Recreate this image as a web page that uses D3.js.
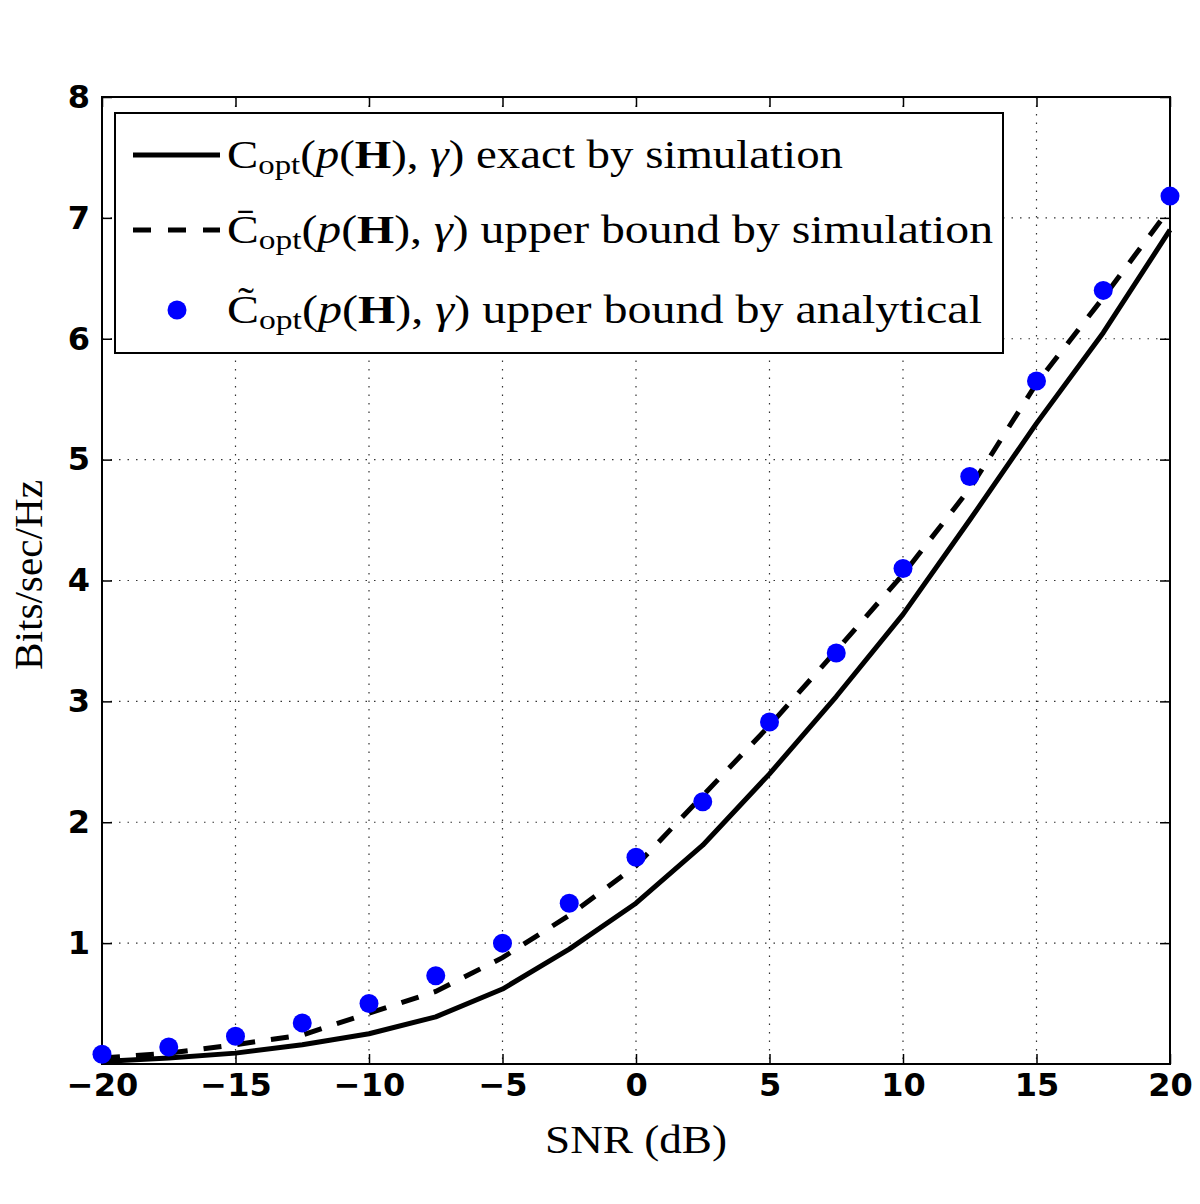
<!DOCTYPE html>
<html><head><meta charset="utf-8">
<script src="https://cdn.jsdelivr.net/npm/d3@7"></script>
<style>body{margin:0;background:#fff}</style>
</head><body>
<svg id="c" width="1200" height="1204"></svg>
<script>
const snr = [-20,-17.5,-15,-12.5,-10,-7.5,-5,-2.5,0,2.5,5,7.5,10,12.5,15,17.5,20];
const exactSim = [0.02,0.05,0.09,0.16,0.25,0.39,0.62,0.95,1.33,1.81,2.40,3.04,3.72,4.50,5.30,6.05,6.90];
const upperSim = [0.05,0.09,0.16,0.24,0.42,0.60,0.88,1.23,1.64,2.22,2.80,3.42,4.05,4.76,5.63,6.34,7.08];
const upperAna = [0.08,0.14,0.23,0.34,0.50,0.73,1.00,1.33,1.71,2.17,2.83,3.40,4.10,4.86,5.65,6.40,7.18];
const xTicks = [-20,-15,-10,-5,0,5,10,15,20];
const yTicks = [1,2,3,4,5,6,7,8];

const svg = d3.select('#c');
const L=102,R=1170,T=97,B=1064;
const x = d3.scaleLinear().domain([-20,20]).range([L,R]);
const y = d3.scaleLinear().domain([0,8]).range([B,T]);

// grid
const g = svg.append('g');
g.selectAll('.gx').data(xTicks.slice(1,-1)).enter().append('line')
 .attr('x1',d=>x(d)).attr('x2',d=>x(d)).attr('y1',T).attr('y2',B)
 .attr('stroke','#333').attr('stroke-width',1.2).attr('stroke-dasharray','1.5,7');
g.selectAll('.gy').data(yTicks.slice(0,-1)).enter().append('line')
 .attr('y1',d=>y(d)).attr('y2',d=>y(d)).attr('x1',L).attr('x2',R)
 .attr('stroke','#333').attr('stroke-width',1.2).attr('stroke-dasharray','1.5,7');

// axes
const ax = d3.axisBottom(x).tickValues(xTicks).tickSize(-10).tickPadding(9).tickFormat(d=>d<0?'\u2212'+(-d):d);
const ay = d3.axisLeft(y).tickValues(yTicks).tickSize(-10).tickPadding(12);
const axT = d3.axisTop(x).tickValues(xTicks).tickSize(-10).tickFormat('');
const ayR = d3.axisRight(y).tickValues(yTicks).tickSize(-10).tickFormat('');
function style(sel){
  sel.select('.domain').remove();
  sel.selectAll('line').attr('stroke','#000').attr('stroke-width',1.5);
  sel.selectAll('text').attr('font-family','DejaVu Sans').attr('font-weight','bold').attr('font-size',32).attr('fill','#000');
}
svg.append('g').attr('transform',`translate(0,${B})`).call(ax).call(style);
svg.append('g').attr('transform',`translate(${L},0)`).call(ay).call(style);
svg.append('g').attr('transform',`translate(0,${T})`).call(axT).call(style);
svg.append('g').attr('transform',`translate(${R},0)`).call(ayR).call(style);
svg.append('rect').attr('x',L).attr('y',T).attr('width',R-L).attr('height',B-T)
 .attr('fill','none').attr('stroke','#000').attr('stroke-width',2);

// series
const line = d3.line().x((d,i)=>x(snr[i])).y(d=>y(d));
svg.append('path').datum(exactSim).attr('d',line).attr('fill','none').attr('stroke','#000').attr('stroke-width',5).attr('stroke-linejoin','round');
svg.append('path').datum(upperSim).attr('d',line).attr('fill','none').attr('stroke','#000').attr('stroke-width',5).attr('stroke-dasharray','18,16');
svg.selectAll('.dot').data(upperAna).enter().append('circle')
 .attr('cx',(d,i)=>x(snr[i])).attr('cy',d=>y(d)).attr('r',9.5).attr('fill','#0000ff');

// axis labels
svg.append('text').attr('x',545).attr('y',1153)
 .attr('font-family','Liberation Serif').attr('font-size',40)
 .attr('textLength',182).attr('lengthAdjust','spacingAndGlyphs').text('SNR (dB)');
svg.append('text').attr('transform','translate(42,670) rotate(-90)')
 .attr('font-family','Liberation Serif').attr('font-size',40)
 .attr('textLength',190).attr('lengthAdjust','spacingAndGlyphs').text('Bits/sec/Hz');

// legend
const lg = svg.append('g');
lg.append('rect').attr('x',115).attr('y',113).attr('width',888).attr('height',240)
 .attr('fill','#fff').attr('stroke','#000').attr('stroke-width',2);
const legendItems = [
 {acc:'', rest:' exact by simulation', type:'solid', cy:155, w:616},
 {acc:'\u0304', rest:' upper bound by simulation', type:'dash', cy:230, w:766},
 {acc:'\u0303', rest:' upper bound by analytical', type:'dot', cy:310, w:755}
];
legendItems.forEach(it=>{
  if(it.type==='solid') lg.append('line').attr('x1',133).attr('x2',220).attr('y1',it.cy).attr('y2',it.cy).attr('stroke','#000').attr('stroke-width',5);
  if(it.type==='dash') lg.append('line').attr('x1',133).attr('x2',220).attr('y1',it.cy).attr('y2',it.cy).attr('stroke','#000').attr('stroke-width',5).attr('stroke-dasharray','18,17');
  if(it.type==='dot') lg.append('circle').attr('cx',177).attr('cy',it.cy).attr('r',9.5).attr('fill','#0000ff');
  const t = lg.append('text').attr('x',227).attr('y',it.cy+13).attr('font-family','Liberation Serif').attr('font-size',40).attr('fill','#000')
    .attr('textLength',it.w).attr('lengthAdjust','spacingAndGlyphs');
  t.append('tspan').text('C'+it.acc);
  t.append('tspan').attr('font-size',28).attr('dy',6).text('opt');
  t.append('tspan').attr('dy',-6).text('(');
  t.append('tspan').attr('font-style','italic').text('p');
  t.append('tspan').text('(');
  t.append('tspan').attr('font-weight','bold').text('H');
  t.append('tspan').text('), ');
  t.append('tspan').attr('font-style','italic').text('\u03b3');
  t.append('tspan').text(')'+it.rest);
});
</script>
</body></html>
